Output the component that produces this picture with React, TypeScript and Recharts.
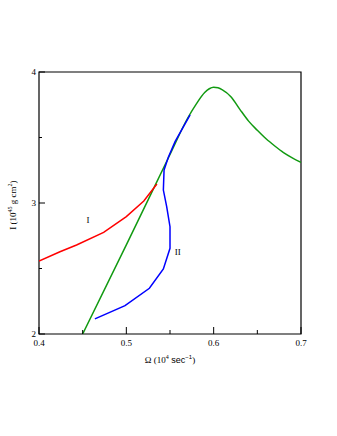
import { LineChart, Line, XAxis, YAxis, ReferenceArea, ReferenceDot, Label } from 'recharts';

const xTicks = [0.4, 0.45, 0.5, 0.55, 0.6, 0.65, 0.7];
const yTicks = [2, 2.5, 3, 3.5, 4];

const curveI = [
  { x: 0.4, y: 2.557 },
  { x: 0.424, y: 2.628 },
  { x: 0.443, y: 2.679 },
  { x: 0.474, y: 2.776 },
  { x: 0.5, y: 2.896 },
  { x: 0.52, y: 3.015 },
  { x: 0.535, y: 3.145 },
];

const curveII = [
  { x: 0.464, y: 2.115 },
  { x: 0.4985, y: 2.216 },
  { x: 0.5264, y: 2.349 },
  { x: 0.5424, y: 2.496 },
  { x: 0.55, y: 2.654 },
  { x: 0.55, y: 2.819 },
  { x: 0.5462, y: 2.972 },
  { x: 0.5424, y: 3.099 },
  { x: 0.5432, y: 3.252 },
  { x: 0.5481, y: 3.349 },
  { x: 0.5558, y: 3.468 },
  { x: 0.573, y: 3.672 },
];

const curveGreen = [
  { x: 0.45, y: 2.0 },
  { x: 0.5, y: 2.68 },
  { x: 0.55, y: 3.37 },
  { x: 0.57, y: 3.645 },
  { x: 0.58, y: 3.755 },
  { x: 0.59, y: 3.845 },
  { x: 0.595, y: 3.872 },
  { x: 0.6, y: 3.883 },
  { x: 0.605, y: 3.879 },
  { x: 0.61, y: 3.864 },
  { x: 0.62, y: 3.81 },
  { x: 0.63, y: 3.715 },
  { x: 0.64, y: 3.625 },
  { x: 0.65, y: 3.555 },
  { x: 0.66, y: 3.49 },
  { x: 0.67, y: 3.435 },
  { x: 0.68, y: 3.385 },
  { x: 0.69, y: 3.345 },
  { x: 0.7, y: 3.31 },
];

const serif = '"Liberation Serif", "DejaVu Serif", serif';
const sans = '"Liberation Sans", Arial, sans-serif';

const isMajor = (v: number, step: number) => Math.abs(v / step - Math.round(v / step)) < 1e-6;

const XTick = (props: any) => {
  const { x, y, payload } = props;
  const major = isMajor(payload.value, 0.1);
  return (
    <g>
      <line x1={x} x2={x} y1={y} y2={y - (major ? 7 : 4)} stroke="#000" />
      {major && (
        <text x={x} y={y + 12} textAnchor="middle" fontSize={9} fontFamily={serif} fill="#000">
          {payload.value.toFixed(1)}
        </text>
      )}
    </g>
  );
};

const YTick = (props: any) => {
  const { x, y, payload } = props;
  const major = isMajor(payload.value, 1);
  return (
    <g>
      <line x1={x} x2={x + (major ? 6 : 3)} y1={y} y2={y} stroke="#000" />
      {major && (
        <text x={x - 3} y={y + 3} textAnchor="end" fontSize={9} fontFamily={serif} fill="#000">
          {payload.value}
        </text>
      )}
    </g>
  );
};

export default function App() {
  return (
    <div style={{ position: 'absolute', left: 0, top: 0, width: 337, height: 436, background: '#fff' }}>
      <LineChart width={337} height={436} margin={{ top: 72, right: 36, bottom: 82, left: 19 }}>
        <XAxis
          dataKey="x"
          type="number"
          domain={[0.4, 0.7]}
          ticks={xTicks}
          tickSize={0}
          tickMargin={0}
          axisLine={false}
          tick={XTick}
          height={20}
          allowDataOverflow
        >
          <Label
            content={() => (
              <text x={170} y={363} textAnchor="middle" fontSize={9} fontFamily={serif} fill="#000">
                Ω (10
                <tspan dy={-4} fontSize={6}>4</tspan>
                <tspan dy={4} fontFamily={sans}> sec</tspan>
                <tspan dy={-4} fontSize={6} fontFamily={sans}>−1</tspan>
                <tspan dy={4}>)</tspan>
              </text>
            )}
          />
        </XAxis>
        <YAxis
          dataKey="y"
          type="number"
          domain={[2, 4]}
          ticks={yTicks}
          tickSize={0}
          tickMargin={0}
          axisLine={false}
          tick={YTick}
          width={20}
          allowDataOverflow
        >
          <Label
            content={() => (
              <text
                x={16}
                y={205}
                textAnchor="middle"
                fontSize={9}
                fontFamily={serif}
                fill="#000"
                transform="rotate(-90 16 205)"
              >
                I (10
                <tspan dy={-4} fontSize={6}>45</tspan>
                <tspan dy={4}> g cm</tspan>
                <tspan dy={-4} fontSize={6}>2</tspan>
                <tspan dy={4}>)</tspan>
              </text>
            )}
          />
        </YAxis>
        <ReferenceArea x1={0.4} x2={0.7} y1={2} y2={4} fill="none" stroke="#000" strokeWidth={1.2} fillOpacity={0} />
        <Line data={curveGreen} dataKey="y" type="monotone" stroke="#119a11" strokeWidth={1.5} dot={false} isAnimationActive={false} />
        <Line data={curveI} dataKey="y" type="linear" stroke="#ff0000" strokeWidth={1.5} dot={false} isAnimationActive={false} />
        <Line data={curveII} dataKey="y" type="linear" stroke="#0000ff" strokeWidth={1.5} dot={false} isAnimationActive={false} />
        <ReferenceDot x={0.456} y={2.87} r={0} fill="none" stroke="none">
          <Label value="I" position="center" fontSize={9} fontFamily={serif} fill="#000" />
        </ReferenceDot>
        <ReferenceDot x={0.559} y={2.626} r={0} fill="none" stroke="none">
          <Label value="II" position="center" fontSize={9} fontFamily={serif} fill="#000" />
        </ReferenceDot>
      </LineChart>
    </div>
  );
}
